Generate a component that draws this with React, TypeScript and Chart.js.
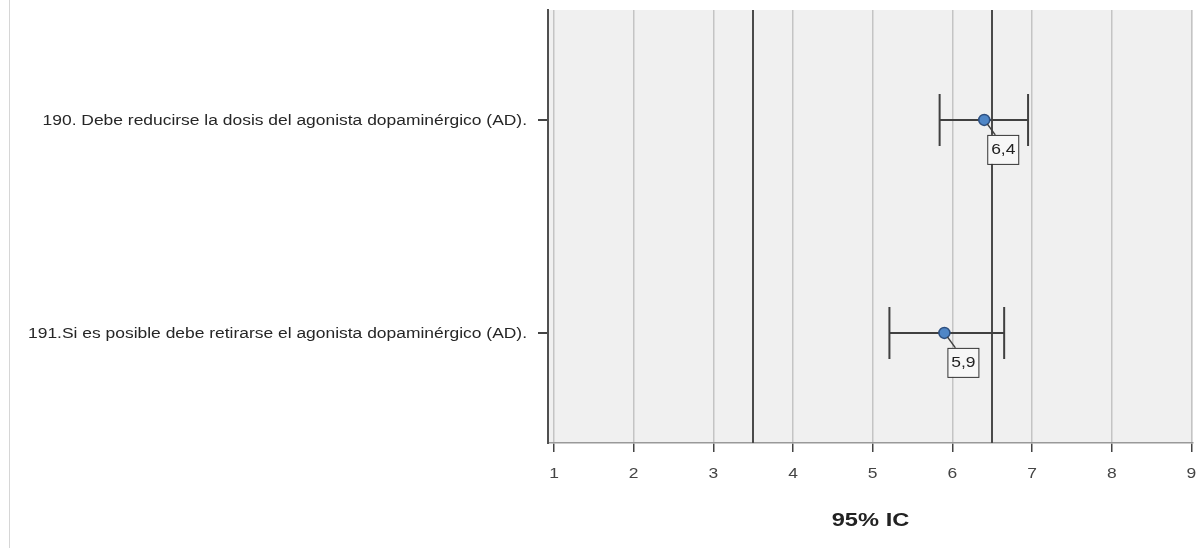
import React, { useEffect, useRef } from "react";
import { Chart, registerables } from "chart.js";

Chart.register(...registerables);

// Items on the vertical axis
const items = [
  "190. Debe reducirse la dosis del agonista dopaminérgico (AD).",
  "191.Si es posible debe retirarse el agonista dopaminérgico (AD).",
];
// Mean score and 95% confidence interval per item
const means = [6.4, 5.9];
const lower = [5.84, 5.21];
const upper = [6.95, 6.65];
// Horizontal axis
const xTicks = [1, 2, 3, 4, 5, 6, 7, 8, 9];
const xMin = 0.925;
const xMax = 9.02;
// Vertical axis range (item index positions)
const yMin = -0.516;
const yMax = 1.517;
// Reference lines
const refLines = [3.5, 6.5];
const axisTitle = "95% IC";

const FONT = "'Liberation Sans', Arial, sans-serif";
// Text in this chart uses slightly wide glyphs
const STRETCH = 1.245;

function wideText(
  ctx: CanvasRenderingContext2D,
  text: string,
  x: number,
  y: number,
  align: CanvasTextAlign,
  font: string,
  color: string
) {
  ctx.save();
  ctx.translate(x, y);
  ctx.scale(STRETCH, 1);
  ctx.font = font;
  ctx.fillStyle = color;
  ctx.textAlign = align;
  ctx.textBaseline = "middle";
  ctx.fillText(text, 0, 0);
  ctx.restore();
}

const decor = {
  id: "decor",
  beforeDraw(chart: any) {
    const { ctx, chartArea: a, width, height } = chart;
    ctx.save();
    ctx.fillStyle = "#ffffff";
    ctx.fillRect(0, 0, width, height);
    ctx.fillStyle = "#f0f0f0";
    ctx.fillRect(a.left, a.top, a.right - a.left, a.bottom - a.top);
    ctx.restore();
  },
  beforeDatasetsDraw(chart: any) {
    const { ctx, chartArea: a, scales } = chart;
    const xs = scales.x;
    const ys = scales.y;
    ctx.save();
    // reference lines
    ctx.strokeStyle = "#4a4a4a";
    ctx.lineWidth = 2;
    refLines.forEach((v) => {
      const px = Math.round(xs.getPixelForValue(v));
      ctx.beginPath();
      ctx.moveTo(px, a.top);
      ctx.lineTo(px, a.bottom);
      ctx.stroke();
    });
    // confidence intervals
    ctx.strokeStyle = "#404040";
    ctx.lineWidth = 2;
    items.forEach((_, i) => {
      const py = Math.round(ys.getPixelForValue(i));
      const x0 = xs.getPixelForValue(lower[i]);
      const x1 = xs.getPixelForValue(upper[i]);
      const cap = 26;
      ctx.beginPath();
      ctx.moveTo(x0, py);
      ctx.lineTo(x1, py);
      ctx.moveTo(x0, py - cap);
      ctx.lineTo(x0, py + cap);
      ctx.moveTo(x1, py - cap);
      ctx.lineTo(x1, py + cap);
      ctx.stroke();
    });
    ctx.restore();
  },
  afterDatasetsDraw(chart: any) {
    const { ctx, scales } = chart;
    const xs = scales.x;
    const ys = scales.y;
    ctx.save();
    items.forEach((_, i) => {
      const px = xs.getPixelForValue(means[i]);
      const py = ys.getPixelForValue(i);
      const bw = 31;
      const bh = 29;
      const bx = px + 3;
      const by = py + 15;
      // leader line
      ctx.strokeStyle = "#404040";
      ctx.lineWidth = 1.5;
      ctx.beginPath();
      ctx.moveTo(px + 3, py + 4);
      ctx.lineTo(bx + 8, by);
      ctx.stroke();
      // value box
      ctx.fillStyle = "#f7f7f7";
      ctx.fillRect(bx, by, bw, bh);
      ctx.strokeStyle = "#333333";
      ctx.lineWidth = 1;
      ctx.strokeRect(bx + 0.5, by + 0.5, bw, bh);
      wideText(
        ctx,
        means[i].toFixed(1).replace(".", ","),
        bx + bw / 2 + 0.5,
        by + bh / 2 + 1,
        "center",
        `14px ${FONT}`,
        "#222222"
      );
    });
    ctx.restore();
  },
  afterDraw(chart: any) {
    const { ctx, chartArea: a, height, scales } = chart;
    const xs = scales.x;
    const ys = scales.y;
    ctx.save();
    ctx.strokeStyle = "#d6d6d6";
    ctx.lineWidth = 1;
    ctx.beginPath();
    ctx.moveTo(9.5, 0);
    ctx.lineTo(9.5, height);
    ctx.stroke();
    ctx.restore();
    // item labels
    items.forEach((label, i) => {
      wideText(ctx, label, 527, ys.getPixelForValue(i) + 1, "right", `14px ${FONT}`, "#262626");
    });
    // tick labels
    xTicks.forEach((v) => {
      wideText(ctx, String(v), xs.getPixelForValue(v), a.bottom + 31, "center", `14px ${FONT}`, "#444444");
    });
    // axis title
    wideText(ctx, axisTitle, (a.left + a.right) / 2, 521, "center", `bold 19px ${FONT}`, "#222222");
  },
};

export default function App() {
  const ref = useRef<HTMLCanvasElement | null>(null);

  useEffect(() => {
    document.body.style.margin = "0";
    const canvas = ref.current;
    if (!canvas) return;
    const chart = new Chart(canvas, {
      type: "scatter",
      data: {
        datasets: [
          {
            data: means.map((m, i) => ({ x: m, y: i })),
            pointRadius: 5.5,
            pointHoverRadius: 5.5,
            pointBackgroundColor: "#4f86c6",
            pointBorderColor: "#2d4f7f",
            pointBorderWidth: 1.5,
          },
        ],
      },
      options: {
        responsive: false,
        animation: false,
        devicePixelRatio: 1,
        layout: { padding: { top: 10, right: 7, left: 0, bottom: 0 } },
        plugins: {
          legend: { display: false },
          tooltip: { enabled: false },
        },
        scales: {
          x: {
            type: "linear",
            min: xMin,
            max: xMax,
            afterBuildTicks(scale: any) {
              scale.ticks = xTicks.map((v) => ({ value: v }));
            },
            afterFit(scale: any) {
              scale.height = 105;
            },
            grid: {
              color: "#c4c4c4",
              lineWidth: 1.5,
              tickColor: "#444444",
              tickLength: 9,
            },
            border: { color: "#999999", width: 1.5 },
            ticks: { display: false },
          },
          y: {
            type: "linear",
            reverse: true,
            min: yMin,
            max: yMax,
            afterBuildTicks(scale: any) {
              scale.ticks = items.map((_, i) => ({ value: i }));
            },
            afterFit(scale: any) {
              scale.width = 548;
            },
            grid: {
              drawOnChartArea: false,
              tickColor: "#444444",
              tickLength: 10,
              lineWidth: 2,
            },
            border: { color: "#505050", width: 2 },
            ticks: { display: false },
          },
        },
      },
      plugins: [decor],
    });
    return () => chart.destroy();
  }, []);

  return <canvas ref={ref} width={1200} height={548} style={{ display: "block" }} />;
}
